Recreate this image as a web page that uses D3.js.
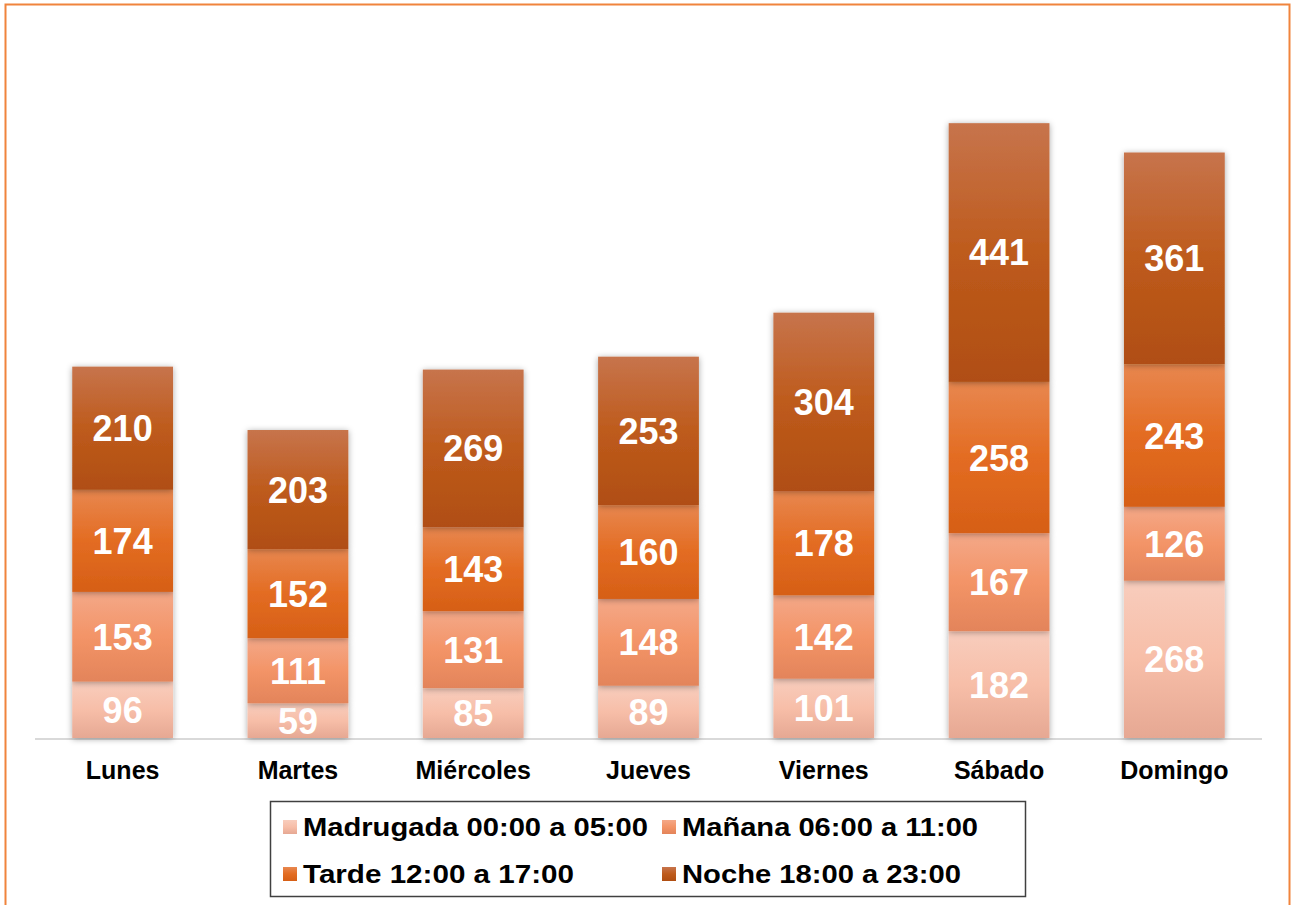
<!DOCTYPE html>
<html><head><meta charset="utf-8">
<script src="https://cdn.jsdelivr.net/npm/d3@7"></script>
<style>
html,body{margin:0;padding:0;background:#fff;}
svg{display:block;font-family:"Liberation Sans",Arial,sans-serif;}
</style></head>
<body>
<svg id="c" width="1297" height="905"></svg>
<script>
const categories = ["Lunes","Martes","Miércoles","Jueves","Viernes","Sábado","Domingo"];
const seriesNames = ["Madrugada 00:00 a 05:00","Mañana 06:00 a 11:00","Tarde 12:00 a 17:00","Noche 18:00 a 23:00"];
const madrugada = [96,59,85,89,101,182,268];
const manana = [153,111,131,148,142,167,126];
const tarde = [174,152,143,160,178,258,243];
const noche = [210,203,269,253,304,441,361];
const seriesValues = [madrugada, manana, tarde, noche];
const gradStops = [
  ["#f8cdbd","#f7bea8","#e6a893"],
  ["#f4a888","#f39467","#e3845a"],
  ["#e8874f","#e36c22","#d65f16"],
  ["#c7744c","#be5b1c","#b04e12"]
];

const svg = d3.select("#c");
const defs = svg.append("defs");
gradStops.forEach((s,i)=>{
  const g = defs.append("linearGradient").attr("id","g"+i).attr("x1",0).attr("y1",0).attr("x2",0).attr("y2",1);
  g.append("stop").attr("offset","0%").attr("stop-color",s[0]);
  g.append("stop").attr("offset","50%").attr("stop-color",s[1]);
  g.append("stop").attr("offset","100%").attr("stop-color",s[2]);
});
const f = defs.append("filter").attr("id","sh").attr("x","-20%").attr("y","-20%").attr("width","140%").attr("height","140%");
f.append("feDropShadow").attr("dx",0).attr("dy",1).attr("stdDeviation",3).attr("flood-color","#000").attr("flood-opacity",0.35);

// frame
svg.append("rect").attr("x",5.5).attr("y",4.5).attr("width",1284).attr("height",910)
  .attr("fill","none").attr("stroke","#f0843c").attr("stroke-width",2);

const x = d3.scaleBand().domain(categories).range([35,1262]).paddingInner(0.425).paddingOuter(0.2125);
const y = d3.scaleLinear().domain([0,1200]).range([738,34]);

const data = categories.map((c,i)=>{const o={cat:c}; seriesNames.forEach((s,j)=>o[s]=seriesValues[j][i]); return o;});
const stacked = d3.stack().keys(seriesNames)(data);

// axis line
svg.append("line").attr("x1",35).attr("x2",1262).attr("y1",739).attr("y2",739).attr("stroke","#d9d9d9").attr("stroke-width",2);

const layers = svg.append("g").selectAll("g").data(stacked).join("g");
layers.selectAll("rect").data(d=>d.map(p=>({p,cat:p.data.cat}))).join("rect")
  .attr("x",d=>x(d.cat)).attr("width",x.bandwidth())
  .attr("y",d=>y(d.p[1])).attr("height",d=>y(d.p[0])-y(d.p[1]))
  .attr("fill",function(){return "url(#g"+d3.select(this.parentNode).datum().index+")";})
  .attr("filter","url(#sh)");

layers.selectAll("text").data(d=>d.map(p=>({p,cat:p.data.cat,v:p[1]-p[0]}))).join("text")
  .attr("x",d=>x(d.cat)+x.bandwidth()/2)
  .attr("y",d=>(y(d.p[0])+y(d.p[1]))/2)
  .attr("dy","0.36em")
  .attr("text-anchor","middle").attr("fill","#fff").attr("font-weight","bold").attr("font-size",36)
  .text(d=>d.v);

// category labels
const xAxis = svg.append("g").attr("transform","translate(0,739)")
  .call(d3.axisBottom(x).tickSize(0).tickPadding(20));
xAxis.select(".domain").remove();
xAxis.selectAll("text").attr("font-size",25).attr("font-weight","bold").attr("fill","#000")
  .attr("dy","0.78em")
  .attr("font-family","Liberation Sans, Arial, sans-serif");

// legend
const lg = svg.append("g");
lg.append("rect").attr("x",270.5).attr("y",801.5).attr("width",755).attr("height",95)
  .attr("fill","#fff").attr("stroke","#404040").attr("stroke-width",1.5);
const legPos = [[283,827],[662,827],[283,874],[662,874]];
seriesNames.forEach((s,i)=>{
  const [lx,ly] = legPos[i];
  lg.append("rect").attr("x",lx).attr("y",ly-7).attr("width",14).attr("height",14).attr("fill","url(#g"+i+")");
  lg.append("text").attr("x",lx+20).attr("y",ly).attr("dy","0.36em")
    .attr("font-size",25).attr("font-weight","bold").attr("fill","#000")
    .attr("textLength", [345,296,271,279][i])
    .attr("lengthAdjust","spacingAndGlyphs")
    .text(s);
});
</script>
</body></html>
